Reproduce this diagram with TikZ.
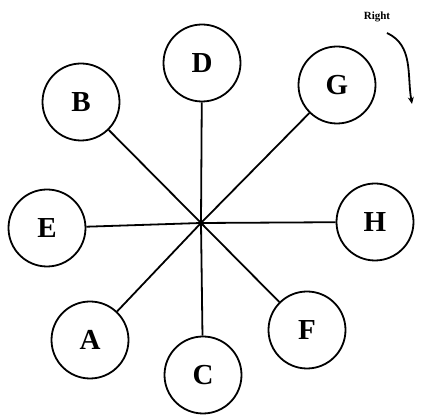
\documentclass[tikz,border=0pt]{standalone}
\usepackage{fontspec}
\setmainfont{Liberation Serif}
\usetikzlibrary{arrows.meta}

\begin{document}
\begin{tikzpicture}[x=1pt, y=1pt]
\useasboundingbox (0,0) rectangle (421,419);
\tikzset{seat/.style={circle, draw, line width=1.8pt, minimum size=77pt, inner sep=0pt, font=\fontsize{29}{30}\selectfont\bfseries}}
\coordinate (O) at (201,196);
\node[seat] (D) at (202,356) {D};
\node[seat] (B) at (81,317) {B};
\node[seat] (G) at (337,334) {G};
\node[seat] (E) at (47,191) {E};
\node[seat] (H) at (375,197) {H};
\node[seat] (A) at (90,79) {A};
\node[seat] (C) at (203,44) {C};
\node[seat] (F) at (307,89) {F};
\draw[line width=1.8pt] (O) -- (D);
\draw[line width=1.8pt] (O) -- (B);
\draw[line width=1.8pt] (O) -- (G);
\draw[line width=1.8pt] (O) -- (E);
\draw[line width=1.8pt] (O) -- (H);
\draw[line width=1.8pt] (O) -- (A);
\draw[line width=1.8pt] (O) -- (C);
\draw[line width=1.8pt] (O) -- (F);
\node[font=\fontsize{11}{12}\selectfont\bfseries] (right) at (377,402) {Right};
\coordinate (turn) at (412,315);
\draw[line width=1.8pt, -{Stealth[length=7pt,width=6pt]}] (387,386) to[out=-25, in=100] (turn);
\end{tikzpicture}
\end{document}
